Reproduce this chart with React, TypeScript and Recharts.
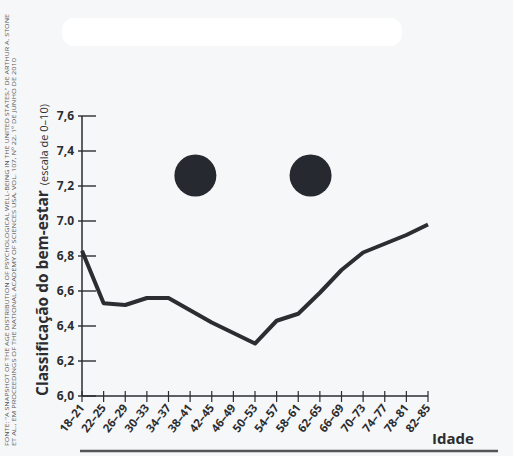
import { LineChart, Line, XAxis, YAxis, ReferenceDot } from "recharts";

const ages = [
  "18–21", "22–25", "26–29", "30–33", "34–37", "38–41", "42–45", "46–49", "50–53",
  "54–57", "58–61", "62–65", "66–69", "70–73", "74–77", "78–81", "82–85",
];
const wellBeing = [
  6.83, 6.53, 6.52, 6.56, 6.56, 6.49, 6.42, 6.36, 6.3,
  6.43, 6.47, 6.59, 6.72, 6.82, 6.87, 6.92, 6.98,
];
const yTicks = [6.0, 6.2, 6.4, 6.6, 6.8, 7.0, 7.2, 7.4, 7.6];
// eyes of the smiley, in category index units
const eyeX = [5.07, 10.73];
const eyeY = 7.26;

const ink = "#2b2d30";
const font = "'Open Sans', 'DejaVu Sans', sans-serif";

const data = ages.map((age, i) => ({ age, idx: i, value: wellBeing[i] }));

function fmtY(v: number) {
  if (v === 7) return "7.0";
  return v.toFixed(1).replace(".", ",");
}

function YTick(props: any) {
  const { x, y, payload } = props;
  return (
    <g>
      <line x1={x - 4} x2={x + 14} y1={y} y2={y} stroke={ink} strokeWidth={1.4} />
      <text x={x - 8} y={y} dy={4} textAnchor="end" fontFamily={font} fontWeight={700} fontSize={12} fill={ink}>
        {fmtY(payload.value)}
      </text>
    </g>
  );
}

function XTick(props: any) {
  const { x, y, payload } = props;
  return (
    <g>
      <line x1={x} x2={x} y1={y - 5} y2={y + 6} stroke={ink} strokeWidth={1.2} />
      <text
        x={x + 3}
        y={y + 12}
        textAnchor="end"
        transform={`rotate(-52 ${x + 3} ${y + 12})`}
        fontFamily={font}
        fontWeight={700}
        fontSize={11.5}
        fill={ink}
      >
        {payload.value}
      </text>
    </g>
  );
}

export default function App() {
  return (
    <div style={{ position: "absolute", left: 0, top: 0, width: 513, height: 456, background: "#f6f7f8" }}>
      <svg width={513} height={456} style={{ position: "absolute", left: 0, top: 0 }}>
        <rect x={62} y={18} width={340} height={28} rx={12} fill="#ffffff" />
        <text
          transform="translate(9 446) rotate(-90)"
          fontFamily={font}
          fontSize={5.5}
          textLength={432}
          lengthAdjust="spacingAndGlyphs"
          fill="#555"
        >
          FONTE: "A SNAPSHOT OF THE AGE DISTRIBUTION OF PSYCHOLOGICAL WELL-BEING IN THE UNITED STATES," DE ARTHUR A. STONE
        </text>
        <text
          transform="translate(16 446) rotate(-90)"
          fontFamily={font}
          fontSize={5.5}
          textLength={388}
          lengthAdjust="spacingAndGlyphs"
          fill="#555"
        >
          ET AL., EM PROCEEDINGS OF THE NATIONAL ACADEMY OF SCIENCES USA, VOL. 107, Nº 22, 1º DE JUNHO DE 2010
        </text>
        <text
          transform="translate(48 250) rotate(-90)"
          textAnchor="middle"
          fontFamily={font}
          fill={ink}
        >
          <tspan fontWeight={700} fontSize={15.5}>Classificação do bem-estar</tspan>
          <tspan fontSize={11} dx={5}>(escala de 0–10)</tspan>
        </text>
        <text x={432} y={444} fontFamily={font} fontWeight={700} fontSize={15} fill={ink}>
          Idade
        </text>
        <line x1={80} x2={498} y1={451} y2={451} stroke="#555" strokeWidth={2.5} />
      </svg>
      <div style={{ position: "absolute", left: 0, top: 0 }}>
        <LineChart
          width={513}
          height={456}
          data={data}
          margin={{ top: 116, right: 85, bottom: 0, left: 0 }}
        >
          <XAxis
            dataKey="age"
            interval={0}
            height={60}
            tickSize={0}
            tickMargin={0}
            tick={<XTick />}
            axisLine={{ stroke: ink, strokeWidth: 1.5 }}
          />
          <XAxis xAxisId="eyes" dataKey="idx" type="number" domain={[-0.5, 16.5]} hide />
          <YAxis
            domain={[6.0, 7.6]}
            ticks={yTicks}
            width={82}
            tickSize={0}
            tickMargin={0}
            tick={<YTick />}
            axisLine={{ stroke: ink, strokeWidth: 1.5 }}
          />
          {eyeX.map((ex, i) => (
            <ReferenceDot
              key={i}
              xAxisId="eyes"
              x={ex}
              y={eyeY}
              r={21}
              fill="#262a30"
              stroke="none"
            />
          ))}
          <Line
            type="linear"
            dataKey="value"
            stroke={ink}
            strokeWidth={4}
            strokeLinejoin="round"
            dot={false}
            isAnimationActive={false}
          />
        </LineChart>
      </div>
    </div>
  );
}
